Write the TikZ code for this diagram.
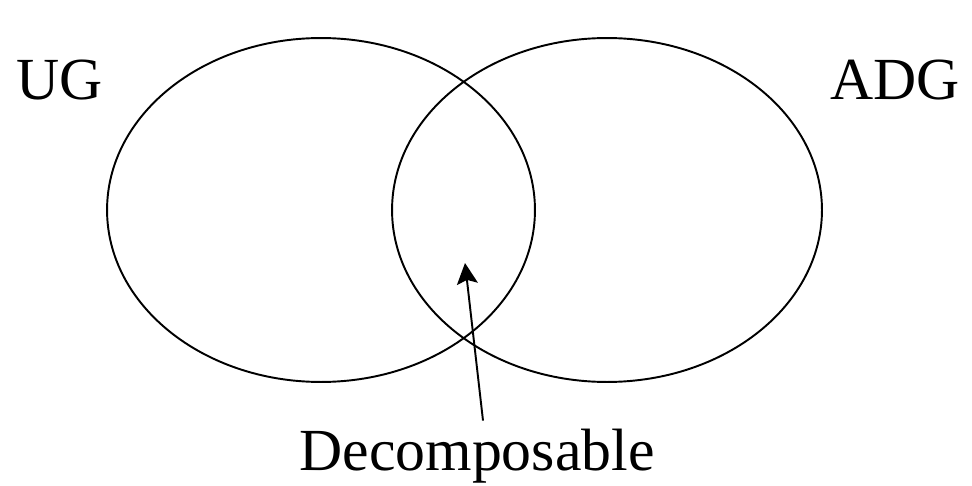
\documentclass[tikz,border=0pt]{standalone}
\usepackage{fontspec}
\setmainfont{Liberation Serif}
\usetikzlibrary{shapes.geometric, arrows.meta}

\begin{document}
\begin{tikzpicture}[x=0.02cm, y=-0.02cm, line width=1.1pt]
        \useasboundingbox (0,0) rectangle (972,486);

        \node (ug)  at (321, 210) [draw, ellipse, inner sep=0, minimum width=8.56cm, minimum height=6.88cm] {};
        \node (adg) at (607, 210) [draw, ellipse, inner sep=0, minimum width=8.6cm, minimum height=6.88cm] {};

        \node (ugl)  at (60, 80)  [font=\fontsize{34}{40}\selectfont] {UG};
        \node (adgl) at (895, 80) [font=\fontsize{34}{40}\selectfont] {ADG};
        \node (dec)  at (477, 470) [anchor=base, inner sep=0, font=\fontsize{34}{40}\selectfont] {Decomposable};

        \coordinate (tip) at (465, 263);
        \draw[-{Stealth[length=0.42cm, width=0.42cm, inset=0.08cm]}] ([xshift=0.12cm, yshift=0.14cm]dec.north) -- (tip);
    \end{tikzpicture}
\end{document}
